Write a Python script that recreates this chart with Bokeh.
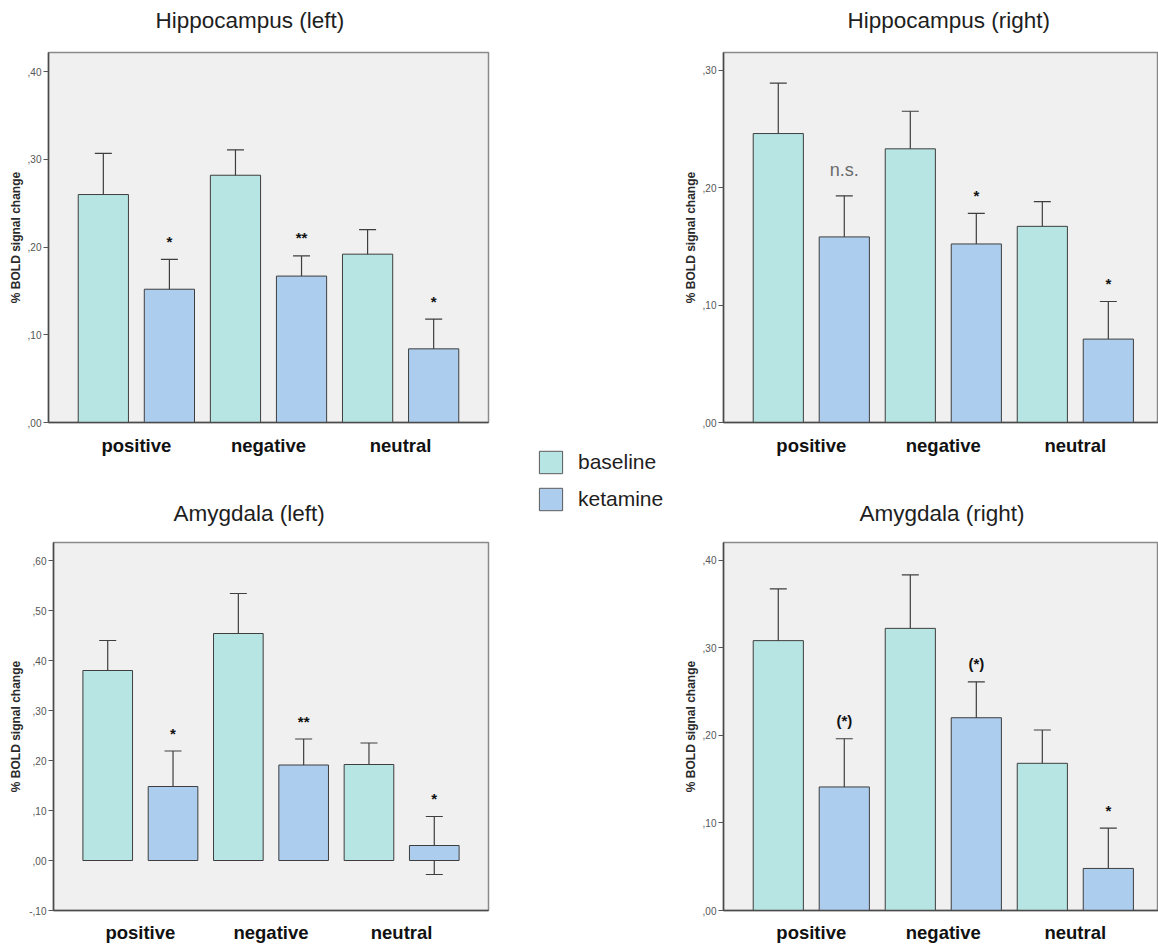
from bokeh.plotting import figure
from bokeh.layouts import row, column
from bokeh.models import (ColumnDataSource, Whisker, TeeHead, FixedTicker,
                          CustomJSTickFormatter, Range1d, Legend, LegendItem)
from bokeh.core.properties import value
from bokeh.embed import file_html
from bokeh.resources import INLINE

# ---------------- data ----------------
categories = ["positive", "negative", "neutral"]
conditions = ["baseline", "ketamine"]

hip_left_baseline = [0.260, 0.282, 0.192]
hip_left_baseline_err = [0.047, 0.029, 0.028]
hip_left_ketamine = [0.152, 0.167, 0.084]
hip_left_ketamine_err = [0.034, 0.023, 0.034]
hip_left_marks = ["*", "**", "*"]
hip_left_ticks = [0.0, 0.1, 0.2, 0.3, 0.4]

hip_right_baseline = [0.246, 0.233, 0.167]
hip_right_baseline_err = [0.043, 0.032, 0.021]
hip_right_ketamine = [0.158, 0.152, 0.071]
hip_right_ketamine_err = [0.035, 0.026, 0.032]
hip_right_marks = ["n.s.", "*", "*"]
hip_right_ticks = [0.0, 0.1, 0.2, 0.3]

amy_left_baseline = [0.380, 0.454, 0.192]
amy_left_baseline_err = [0.060, 0.080, 0.043]
amy_left_ketamine = [0.148, 0.191, 0.030]
amy_left_ketamine_err = [0.071, 0.052, 0.058]
amy_left_marks = ["*", "**", "*"]
amy_left_ticks = [-0.1, 0.0, 0.1, 0.2, 0.3, 0.4, 0.5, 0.6]

amy_right_baseline = [0.308, 0.322, 0.168]
amy_right_baseline_err = [0.059, 0.061, 0.038]
amy_right_ketamine = [0.141, 0.220, 0.048]
amy_right_ketamine_err = [0.055, 0.041, 0.046]
amy_right_marks = ["(*)", "(*)", "*"]
amy_right_ticks = [0.0, 0.1, 0.2, 0.3, 0.4]

titles = ["Hippocampus (left)", "Hippocampus (right)",
          "Amygdala (left)", "Amygdala (right)"]

# ---------------- style ----------------
FONT = "Liberation Sans"
C_BASE = "#B6E5E3"
C_KET = "#ADCDEE"
C_LINE = "#3E3E3E"
BG = "#F0F0F0"
BAR_W = 0.76
TITLE_H = 40


def make_title(text, width, tx, ty):
    t = figure(width=width, height=TITLE_H, output_backend="svg",
               toolbar_location=None, x_range=Range1d(0, width),
               y_range=Range1d(TITLE_H, 0), x_axis_location=None,
               y_axis_location=None, min_border=0)
    t.grid.visible = False
    t.outline_line_color = None
    t.background_fill_color = "white"
    t.border_fill_color = "white"
    t.text(x=[tx], y=[ty], text=[text], text_font=value(FONT),
           text_font_size="22.5px", text_color="#1E1E1E",
           text_align="left", text_baseline="alphabetic")
    return t


def make_panel(base, base_err, ket, ket_err, marks, ticks, yr, x_end,
               width, height, mb_left, mb_right, mb_top, mb_bottom,
               label_standoff, ylab_standoff):
    p = figure(width=width, height=height, output_backend="svg",
               toolbar_location=None, x_range=Range1d(0.17, x_end),
               y_range=Range1d(*yr), min_border_left=mb_left,
               min_border_right=mb_right, min_border_top=mb_top,
               min_border_bottom=mb_bottom)
    p.background_fill_color = BG
    p.border_fill_color = "white"
    p.outline_line_color = "#8A8A8A"
    p.outline_line_width = 1.5
    p.grid.visible = False

    xb = [2 * i + 1 for i in range(len(categories))]
    xk = [2 * i + 2 for i in range(len(categories))]

    p.vbar(x=xb, top=base, bottom=0, width=BAR_W, fill_color=C_BASE,
           line_color=C_LINE, line_width=1)
    p.vbar(x=xk, top=ket, bottom=0, width=BAR_W, fill_color=C_KET,
           line_color=C_LINE, line_width=1)

    xs = xb + xk
    means = list(base) + list(ket)
    errs = list(base_err) + list(ket_err)
    src = ColumnDataSource(dict(x=xs,
                                upper=[m + e for m, e in zip(means, errs)],
                                lower=[m - e for m, e in zip(means, errs)]))
    w = Whisker(base="x", upper="upper", lower="lower", source=src,
                line_color=C_LINE, line_width=1.2,
                upper_head=TeeHead(size=17, line_color=C_LINE, line_width=1.2),
                lower_head=TeeHead(size=17, line_color=C_LINE, line_width=1.2))
    p.add_layout(w)

    ket_upper = [m + e for m, e in zip(ket, ket_err)]
    star_x, star_y, star_t = [], [], []
    ns_x, ns_y, ns_t = [], [], []
    for x, y, t in zip(xk, ket_upper, marks):
        if t == "n.s.":
            ns_x.append(x); ns_y.append(y); ns_t.append(t)
        else:
            star_x.append(x); star_y.append(y); star_t.append(t)
    if star_t:
        p.text(x=star_x, y=star_y, text=star_t, text_font=value(FONT),
               text_font_style="bold", text_font_size="15px",
               text_color="#111111", text_align="center",
               text_baseline="alphabetic", y_offset=-18)
    if ns_t:
        p.text(x=ns_x, y=ns_y, text=ns_t, text_font=value(FONT),
               text_font_style="normal", text_font_size="18px",
               text_color="#6A6A6A", text_align="center",
               text_baseline="alphabetic", y_offset=-26)

    # y axis
    ya = p.yaxis[0]
    ya.ticker = FixedTicker(ticks=ticks)
    ya.formatter = CustomJSTickFormatter(
        code="let s = tick.toFixed(2); return s.replace('0.', ',');")
    ya.axis_label = "% BOLD signal change"
    ya.axis_label_text_font = FONT
    ya.axis_label_text_font_style = "bold"
    ya.axis_label_text_font_size = "12px"
    ya.axis_label_text_color = "#2A2A2A"
    ya.axis_label_standoff = ylab_standoff
    ya.major_label_text_font = FONT
    ya.major_label_text_font_size = "10px"
    ya.major_label_text_color = "#555555"
    ya.major_label_standoff = 2
    ya.major_tick_out = 5
    ya.major_tick_in = 0
    ya.minor_tick_out = 0
    ya.minor_tick_in = 0
    ya.major_tick_line_color = "#555555"
    ya.axis_line_color = "#4A4A4A"
    ya.axis_line_width = 1.5

    # x axis
    xa = p.xaxis[0]
    xa.ticker = FixedTicker(ticks=[2 * i + 1.5 for i in range(len(categories))])
    xa.formatter = CustomJSTickFormatter(
        args=dict(labels=categories),
        code="const i = Math.round((tick - 1.5) / 2); return labels[i] || '';")
    xa.major_label_text_font = FONT
    xa.major_label_text_font_style = "bold"
    xa.major_label_text_font_size = "18.5px"
    xa.major_label_text_color = "#111111"
    xa.major_label_standoff = label_standoff
    xa.major_tick_out = 0
    xa.major_tick_in = 0
    xa.minor_tick_out = 0
    xa.minor_tick_in = 0
    xa.axis_line_color = "#4A4A4A"
    xa.axis_line_width = 1.5
    return p


t1 = make_title(titles[0], 520, 155, 20)
p1 = make_panel(hip_left_baseline, hip_left_baseline_err,
                hip_left_ketamine, hip_left_ketamine_err, hip_left_marks,
                hip_left_ticks, (0.0, 0.422), 6.83,
                520, 452, 48, 32, 12, 70, 12, 2)
t3 = make_title(titles[2], 520, 173, 20.5)
p3 = make_panel(amy_left_baseline, amy_left_baseline_err,
                amy_left_ketamine, amy_left_ketamine_err, amy_left_marks,
                amy_left_ticks, (-0.1, 0.636), 6.83,
                520, 413, 53, 32, 10, 33, 11, 3)
t2 = make_title(titles[1], 478, 167, 20)
p2 = make_panel(hip_right_baseline, hip_right_baseline_err,
                hip_right_ketamine, hip_right_ketamine_err, hip_right_marks,
                hip_right_ticks, (0.0, 0.315), 6.76,
                478, 452, 43, 0, 12, 70, 12, 2)
t4 = make_title(titles[3], 478, 179, 20.5)
p4 = make_panel(amy_right_baseline, amy_right_baseline_err,
                amy_right_ketamine, amy_right_ketamine_err, amy_right_marks,
                amy_right_ticks, (0.0, 0.42), 6.76,
                478, 413, 43, 0, 10, 33, 11, 2)

# legend panel
leg = figure(width=160, height=945, output_backend="svg", toolbar_location=None,
             x_range=Range1d(0, 1), y_range=Range1d(0, 1),
             x_axis_location=None, y_axis_location=None, min_border=0)
leg.grid.visible = False
leg.outline_line_color = None
leg.background_fill_color = "white"
# swatch-only renderers (zero-height bars outside the visible range)
r_b = leg.vbar(x=[-1], top=[0], width=0.5, fill_color=C_BASE, line_color="#5A5A5A")
r_k = leg.vbar(x=[-1], top=[0], width=0.5, fill_color=C_KET, line_color="#5A5A5A")
legend = Legend(items=[LegendItem(label=conditions[0], renderers=[r_b]),
                       LegendItem(label=conditions[1], renderers=[r_k])],
                location=(16, 432), glyph_width=29, glyph_height=28,
                label_height=28, spacing=9, padding=0, margin=0,
                border_line_alpha=0, background_fill_alpha=0,
                label_standoff=13, label_text_font=FONT,
                label_text_font_size="21px", label_text_color="#1E1E1E")
leg.add_layout(legend)

layout = row(column(row(t1), row(p1), row(t3), row(p3)), leg,
             column(row(t2), row(p2), row(t4), row(p4)))

open("out.html", "w").write(file_html(layout, INLINE))
